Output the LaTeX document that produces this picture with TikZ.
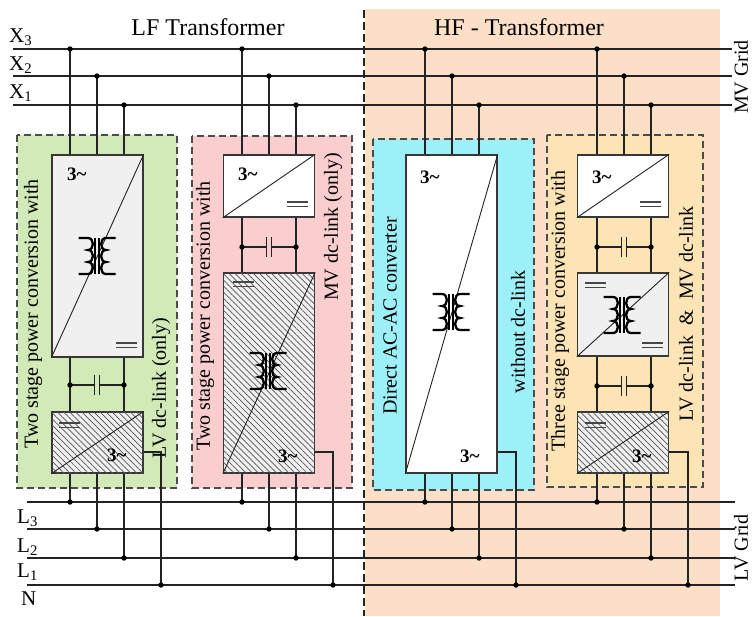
\documentclass[tikz,border=0pt]{standalone}
\usepackage{fontspec}
\setmainfont{Liberation Serif}
\usetikzlibrary{patterns.meta}
\definecolor{orng}{RGB}{251,223,199}
\definecolor{pgreen}{RGB}{210,233,184}
\definecolor{ppink}{RGB}{250,206,206}
\definecolor{pcyan}{RGB}{158,240,248}
\definecolor{pyel}{RGB}{253,228,180}
\definecolor{wirec}{RGB}{35,35,35}
\definecolor{edgec}{RGB}{55,55,55}
\definecolor{boxgray}{RGB}{240,240,240}
\tikzset{
  xfmr/.pic={
    \draw[line width=2.3pt, draw=black]
      (-18.5,-18) -- (-9,-18)
      .. controls (-2.5,-18) and (-2.5,-6) .. (-9,-6)
      .. controls (-2.5,-6) and (-2.5,6) .. (-9,6)
      .. controls (-2.5,6) and (-2.5,18) .. (-9,18) -- (-18.5,18);
    \draw[line width=2.3pt, draw=black]
      (18.5,-18) -- (9,-18)
      .. controls (2.5,-18) and (2.5,-6) .. (9,-6)
      .. controls (2.5,-6) and (2.5,6) .. (9,6)
      .. controls (2.5,6) and (2.5,18) .. (9,18) -- (18.5,18);
    \draw[line width=1.7pt, draw=black] (-1.8,-18) -- (-1.8,18) (1.8,-18) -- (1.8,18);
  },
  eqsign/.pic={\draw[line width=1.1pt, draw=gray!55!black] (0,0) -- (21,0) (0,4.5) -- (21,4.5);},
  capsym/.pic={
    \draw[line width=1.2pt, draw=wirec] (-27,0) -- (-2.8,0) (2.8,0) -- (27,0);
    \draw[line width=1.3pt, draw=wirec] (-2.8,-10) -- (-2.8,10) (2.8,-10) -- (2.8,10);
    \fill[black] (-27,0) circle (2.7pt) (27,0) circle (2.7pt);
  }
}
\begin{document}
\begin{tikzpicture}[x=1pt,y=-1pt,
  wire/.style={line width=1.2pt, draw=wirec},
  panelb/.style={line width=1.3pt, draw=edgec!90, dash pattern=on 7pt off 4pt},
  conv/.style={draw=edgec, line width=1.3pt, minimum width=91pt, inner sep=0pt, rectangle},
  hatchbox/.style={conv, fill=boxgray, postaction={pattern={Lines[angle=-45,distance=4.3pt,line width=0.7pt]}, pattern color=gray!65!black}},
  diag/.style={line width=0.9pt, draw=wirec},
  lbl/.style={font=\fontsize{20}{22}\selectfont, rotate=90, inner sep=0pt},
  ttl/.style={font=\fontsize{24}{26}\selectfont, anchor=base, inner sep=0pt},
  bl/.style={font=\fontsize{21}{23}\selectfont, anchor=base west, inner sep=0pt},
  three/.style={font=\fontsize{19}{20}\selectfont\bfseries, anchor=base west, inner sep=0pt}]
\useasboundingbox (0,0) rectangle (754,616);
\fill[white] (0,0) rectangle (754,616);
% HF background
\fill[orng] (365,9) rectangle (720,616);
\draw[line width=1.3pt, draw=wirec, dash pattern=on 8pt off 4pt] (364,10) -- (364,616);
% panels
\fill[pgreen] (17,135) rectangle (177,488);
\draw[panelb] (17,135) rectangle (177,488);
\fill[ppink] (192,136) rectangle (352,488);
\draw[panelb] (192,136) rectangle (352,488);
\fill[pcyan] (373,139) rectangle (534,490);
\draw[panelb] (373,139) rectangle (534,490);
\fill[pyel] (547,135) rectangle (703,487);
\draw[panelb] (547,135) rectangle (703,487);
% buses
\coordinate (x3w) at (13,49);  \coordinate (x3e) at (732,49);
\coordinate (x2w) at (13,76);  \coordinate (x2e) at (732,76);
\coordinate (x1w) at (13,105); \coordinate (x1e) at (732,105);
\coordinate (l0w) at (27,502); \coordinate (l0e) at (735,502);
\coordinate (l3w) at (27,529); \coordinate (l3e) at (735,529);
\coordinate (l2w) at (27,558); \coordinate (l2e) at (735,558);
\coordinate (l1w) at (27,585); \coordinate (l1e) at (735,585);
\draw[wire] (x3w) -- (x3e) (x2w) -- (x2e) (x1w) -- (x1e);
\draw[wire] (l0w) -- (l0e) (l3w) -- (l3e) (l2w) -- (l2e) (l1w) -- (l1e);
% wiring per panel
\foreach \c/\sx in {97/161,269/333,452/516,624/688}{
  \draw[wire] (\c-27,49) -- (\c-27,502);
  \draw[wire] (\c+27,105) -- (\c+27,558);
  \draw[wire] (\c,76) -- (\c,165);
  \draw[wire] (\c,465) -- (\c,529);
  \draw[wire] (\c+40,452) -- (\sx,452) -- (\sx,585);
  \fill[black] (\c-27,49) circle (2.7pt) (\c,76) circle (2.7pt) (\c+27,105) circle (2.7pt);
  \fill[black] (\c-27,502) circle (2.7pt) (\c,529) circle (2.7pt) (\c+27,558) circle (2.7pt) (\sx,585) circle (2.7pt);
}
% converter boxes
\node[conv, fill=boxgray, minimum height=202pt] (p1a) at (97.5,256) {};
\node[hatchbox, minimum height=61pt] (p1b) at (97.5,442.5) {};
\node[conv, fill=white, minimum height=62pt] (p2a) at (269,186) {};
\node[hatchbox, minimum height=200pt] (p2b) at (269,373) {};
\node[conv, fill=white, minimum height=318pt] (p3a) at (451.5,314) {};
\node[conv, fill=white, minimum height=62pt] (p4a) at (623,186) {};
\node[conv, fill=boxgray, minimum height=83pt] (p4b) at (623,314.5) {};
\node[hatchbox, minimum height=61pt] (p4c) at (623,442.5) {};
\foreach \b in {p1a,p1b,p2a,p2b,p3a,p4a,p4b,p4c}{
  \draw[diag] (\b.south west) -- (\b.north east);
}
% capacitors
\pic at (97,385) {capsym};
\pic at (269,247) {capsym};
\pic at (624,247) {capsym};
\pic at (624,386) {capsym};
% transformers
\pic at (97,256) {xfmr};
\pic at (268,371) {xfmr};
\pic at (451,312) {xfmr};
\pic at (622,315) {xfmr};
% dc signs
\pic at (116,343) {eqsign};
\pic at (59,423) {eqsign};
\pic at (287,202) {eqsign};
\pic at (233,282) {eqsign};
\pic at (640,202) {eqsign};
\pic at (585,283) {eqsign};
\pic at (642,343) {eqsign};
\pic at (585,423) {eqsign};
% ac labels
\node[three] (a1) at (67,180) {3\textasciitilde};
\node[three] (a2) at (107,461) {3\textasciitilde};
\node[three] (a3) at (238,180) {3\textasciitilde};
\node[three] (a4) at (278,462) {3\textasciitilde};
\node[three] (a5) at (420,183) {3\textasciitilde};
\node[three] (a6) at (460,462) {3\textasciitilde};
\node[three] (a7) at (592,183) {3\textasciitilde};
\node[three] (a8) at (632,462) {3\textasciitilde};
% titles
\node[ttl] (tlf) at (208,35) {LF Transformer};
\node[ttl] (thf) at (519,35) {HF - Transformer};
% bus labels
\node[bl] (lx3) at (9,42) {X\textsubscript{3}};
\node[bl] (lx2) at (9,70) {X\textsubscript{2}};
\node[bl] (lx1) at (9,98) {X\textsubscript{1}};
\node[bl] (ll3) at (17,523) {L\textsubscript{3}};
\node[bl] (ll2) at (17,552) {L\textsubscript{2}};
\node[bl] (ll1) at (17,577) {L\textsubscript{1}};
\node[bl] (lnn) at (21,605) {N};
\node[lbl] (mvg) at (741,77) {MV Grid};
\node[lbl] (lvg) at (741,548) {LV Grid};
% panel texts
\node[lbl] (t1a) at (33,314) {Two stage power conversion with};
\node[lbl] (t1b) at (161,388) {LV dc-link (only)};
\node[lbl] (t2a) at (205,316) {Two stage power conversion with};
\node[lbl] (t2b) at (333,227) {MV dc-link (only)};
\node[lbl] (t3a) at (390,316) {Direct AC-AC converter};
\node[lbl] (t3b) at (518,332) {without dc-link};
\node[lbl] (t4a) at (560,311) {Three stage power conversion with};
\node[lbl] (t4b) at (686,314) {LV dc-link \ \& \ MV dc-link};
\end{tikzpicture}
\end{document}
